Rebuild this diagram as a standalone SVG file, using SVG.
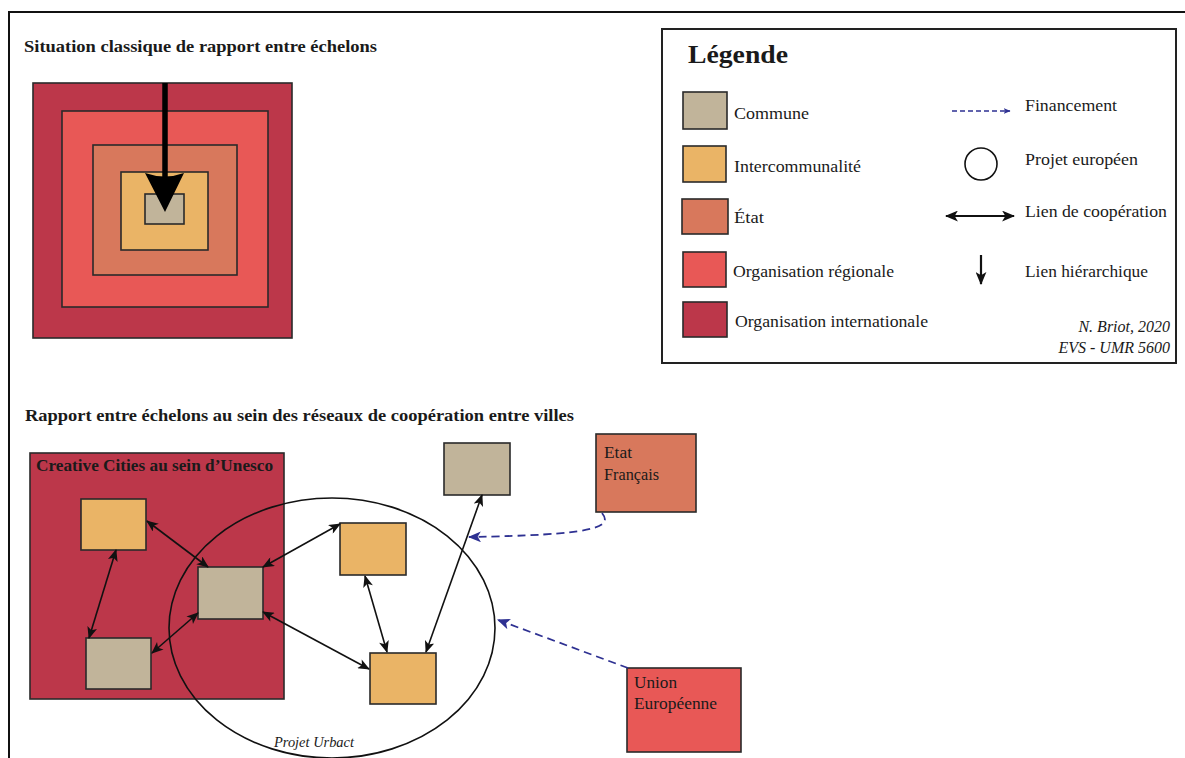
<svg xmlns="http://www.w3.org/2000/svg" width="1185" height="758" viewBox="0 0 1185 758">
<defs>
<style>
.t{font-family:"Liberation Serif","Times New Roman",serif;fill:#1a1a1a}
.b{font-weight:bold}
.i{font-style:italic}
.box{stroke:#2a2a2a;stroke-width:1.6}
.commune{fill:#C1B49A}
.inter{fill:#EAB466}
.etat{fill:#D8785C}
.reg{fill:#E85856}
.intl{fill:#BC374A}
.coop{fill:none;stroke:#111;stroke-width:1.6;marker-start:url(#ah);marker-end:url(#ah)}
.fin{fill:none;stroke:#2E3192;stroke-width:1.8;stroke-dasharray:8,5;marker-end:url(#bh)}
</style>
<marker id="ah" viewBox="0 0 12 10" refX="11" refY="5" markerWidth="13" markerHeight="10" markerUnits="userSpaceOnUse" orient="auto-start-reverse">
<path d="M0,0 L12,5 L0,10 L3,5 z" fill="#111"/>
</marker>
<marker id="bh" viewBox="0 0 12 10" refX="11" refY="5" markerWidth="13" markerHeight="11" markerUnits="userSpaceOnUse" orient="auto">
<path d="M0,0 L12,5 L0,10 L3,5 z" fill="#2E3192"/>
</marker>
<marker id="lh" viewBox="0 0 12 10" refX="11" refY="5" markerWidth="13" markerHeight="11" markerUnits="userSpaceOnUse" orient="auto-start-reverse">
<path d="M0,0 L12,5 L0,10 L3,5 z" fill="#111"/>
</marker>
<marker id="fh" viewBox="0 0 12 10" refX="11" refY="5" markerWidth="7" markerHeight="6" markerUnits="userSpaceOnUse" orient="auto">
<path d="M0,0 L12,5 L0,10 L3,5 z" fill="#2E3192"/>
</marker>
</defs>
<rect x="0" y="0" width="1185" height="758" fill="#fff"/>
<rect x="9" y="12" width="1190" height="770" fill="none" stroke="#111" stroke-width="2"/>

<g id="top-section">
<text class="t b" x="24" y="52" font-size="17" textLength="353" lengthAdjust="spacingAndGlyphs">Situation classique de rapport entre échelons</text>
<rect class="box intl" x="33" y="83" width="259" height="255"/>
<rect class="box reg" x="62" y="111" width="206" height="196"/>
<rect class="box etat" x="93" y="145" width="144" height="130"/>
<rect class="box inter" x="121" y="172" width="87" height="78"/>
<rect class="box commune" x="145" y="194" width="39" height="30"/>
<line x1="165" y1="83" x2="165" y2="185" stroke="#000" stroke-width="5.5"/>
<path d="M145,173 Q165,180 184,173 L165,212 z" fill="#000"/>
</g>

<g id="legend">
<rect x="662" y="29" width="514" height="334" fill="#fff" stroke="#222" stroke-width="2"/>
<text class="t b" x="688" y="63" font-size="25" textLength="100" lengthAdjust="spacingAndGlyphs">Légende</text>
<g id="leg-commune"><rect class="box commune" x="683" y="92" width="44" height="37"/><text class="t" x="734" y="119" font-size="17" textLength="75" lengthAdjust="spacingAndGlyphs">Commune</text></g>
<g id="leg-inter"><rect class="box inter" x="683" y="146" width="43" height="36"/><text class="t" x="734" y="172" font-size="17" textLength="127" lengthAdjust="spacingAndGlyphs">Intercommunalité</text></g>
<g id="leg-etat"><rect class="box etat" x="682" y="199" width="46" height="35"/><text class="t" x="734" y="223" font-size="17" textLength="30" lengthAdjust="spacingAndGlyphs">État</text></g>
<g id="leg-reg"><rect class="box reg" x="683" y="252" width="43" height="35"/><text class="t" x="733" y="277" font-size="17" textLength="161" lengthAdjust="spacingAndGlyphs">Organisation régionale</text></g>
<g id="leg-intl"><rect class="box intl" x="683" y="302" width="44" height="35"/><text class="t" x="735" y="327" font-size="17" textLength="193" lengthAdjust="spacingAndGlyphs">Organisation internationale</text></g>
<g id="leg-fin"><line x1="952" y1="111" x2="1010" y2="111" stroke="#2E3192" stroke-width="1.3" stroke-dasharray="5,3" marker-end="url(#fh)"/><text class="t" x="1025" y="111" font-size="17" textLength="92" lengthAdjust="spacingAndGlyphs">Financement</text></g>
<g id="leg-projet"><circle cx="981" cy="164" r="16" fill="none" stroke="#111" stroke-width="1.6"/><text class="t" x="1025" y="165" font-size="17" textLength="113" lengthAdjust="spacingAndGlyphs">Projet européen</text></g>
<g id="leg-coop"><line x1="946" y1="216" x2="1014" y2="216" stroke="#111" stroke-width="1.8" marker-start="url(#lh)" marker-end="url(#lh)"/><text class="t" x="1025" y="217" font-size="17" textLength="142" lengthAdjust="spacingAndGlyphs">Lien de coopération</text></g>
<g id="leg-hier"><line x1="981" y1="255" x2="981" y2="284" stroke="#111" stroke-width="2.2" marker-end="url(#lh)"/><text class="t" x="1025" y="277" font-size="17" textLength="123" lengthAdjust="spacingAndGlyphs">Lien hiérarchique</text></g>
<text class="t i" x="1170" y="332" font-size="16" text-anchor="end" fill="#333">N. Briot, 2020</text>
<text class="t i" x="1170" y="353" font-size="16" text-anchor="end" fill="#333">EVS - UMR 5600</text>
</g>

<text class="t b" x="25" y="421" font-size="17" textLength="549" lengthAdjust="spacingAndGlyphs">Rapport entre échelons au sein des réseaux de coopération entre villes</text>

<g id="creative-cities">
<rect class="box intl" x="30" y="453" width="254" height="246"/>
<text class="t b" x="36" y="471" font-size="17" textLength="237" lengthAdjust="spacingAndGlyphs">Creative Cities au sein d’Unesco</text>
</g>
<g id="projet-urbact">
<ellipse cx="332" cy="628" rx="163" ry="130" fill="none" stroke="#111" stroke-width="1.6"/>
<text class="t i" x="274" y="747" font-size="15" textLength="80" lengthAdjust="spacingAndGlyphs">Projet Urbact</text>
</g>
<g id="node-a"><rect class="box inter" x="81" y="499" width="65" height="51"/></g>
<g id="node-b"><rect class="box commune" x="86" y="638" width="65" height="51"/></g>
<g id="node-c"><rect class="box commune" x="198" y="567" width="65" height="52"/></g>
<g id="node-d"><rect class="box inter" x="340" y="523" width="66" height="52"/></g>
<g id="node-e"><rect class="box inter" x="370" y="653" width="66" height="51"/></g>
<g id="node-f"><rect class="box commune" x="444" y="443" width="66" height="52"/></g>
<g id="etat-francais"><rect class="box etat" x="596" y="434" width="100" height="78"/>
<text class="t" x="604" y="458" font-size="16" textLength="28" lengthAdjust="spacingAndGlyphs" fill="#3a1515">Etat</text>
<text class="t" x="604" y="480" font-size="16" textLength="55" lengthAdjust="spacingAndGlyphs" fill="#3a1515">Français</text></g>
<g id="union-europeenne"><rect class="box reg" x="627" y="668" width="114" height="84"/>
<text class="t" x="634" y="688" font-size="16" textLength="43" lengthAdjust="spacingAndGlyphs" fill="#3a1515">Union</text>
<text class="t" x="634" y="709" font-size="16" textLength="83" lengthAdjust="spacingAndGlyphs" fill="#3a1515">Européenne</text></g>

<g id="connectors">
<line class="coop" x1="147" y1="521" x2="208" y2="567"/>
<line class="coop" x1="116" y1="550" x2="89" y2="638"/>
<line class="coop" x1="152" y1="653" x2="198" y2="613"/>
<line class="coop" x1="263" y1="567" x2="340" y2="524"/>
<line class="coop" x1="263" y1="612" x2="369" y2="669"/>
<line class="coop" x1="365" y1="576" x2="387" y2="652"/>
<line class="coop" x1="482" y1="495" x2="426" y2="652"/>
<path class="fin" d="M602,513 C614,528 592,535 469,537"/>
<line class="fin" x1="628" y1="668" x2="498" y2="620"/>
</g>
</svg>
